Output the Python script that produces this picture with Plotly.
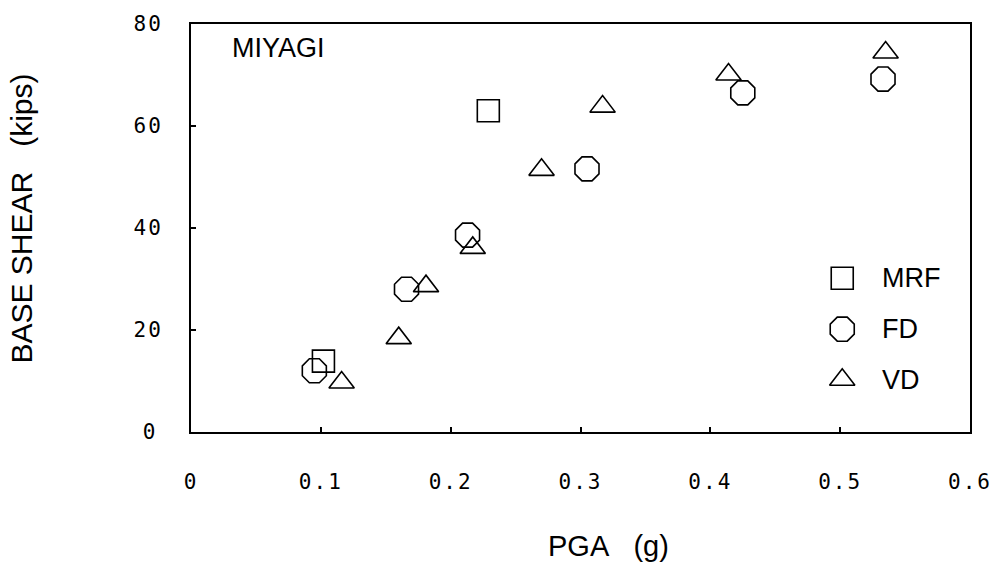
import plotly.graph_objects as go

# Peak ground acceleration (g) vs. base shear (kips), Miyagi record
mrf_pga = [0.102, 0.229]
mrf_shear = [13.9, 63.0]

fd_pga = [0.095, 0.166, 0.213, 0.305, 0.425, 0.533]
fd_shear = [12.0, 28.0, 38.6, 51.6, 66.5, 69.2]

vd_pga = [0.116, 0.160, 0.181, 0.217, 0.270, 0.317, 0.414, 0.535]
vd_shear = [9.7, 18.4, 28.6, 36.1, 51.4, 63.8, 70.1, 74.4]

x_ticks = [0, 0.1, 0.2, 0.3, 0.4, 0.5, 0.6]
x_ticktext = ["0", "0.1", "0.2", "0.3", "0.4", "0.5", "0.6"]
y_ticks = [0, 20, 40, 60, 80]
y_ticktext = ["0", "20", "40", "60", "80"]

legend_names = ["MRF", "FD", "VD"]
legend_symbols = ["square-open", "octagon-open", "triangle-up-open"]
legend_sizes = [22, 26, 22]

SANS = "Liberation Sans, Arial, sans-serif"
MONO = "DejaVu Sans Mono, monospace"


def spaced(s):
    return '<span style="letter-spacing:2px">' + s + "</span>"


def centered_single(s):
    # pad a one-digit label so it sits centred under two-digit labels
    if len(s) == 1:
        return spaced(s) + '<span style="font-size:9px">\u00a0</span>'
    return spaced(s)


fig = go.Figure()

marker_line = dict(color="black", width=1.6)
fig.add_trace(go.Scatter(x=mrf_pga, y=mrf_shear, mode="markers", name="MRF",
                         marker=dict(symbol="square-open", size=22, color="black", line=marker_line)))
fig.add_trace(go.Scatter(x=fd_pga, y=fd_shear, mode="markers", name="FD",
                         marker=dict(symbol="octagon-open", size=26, color="black", line=marker_line)))
fig.add_trace(go.Scatter(x=vd_pga, y=vd_shear, mode="markers", name="VD",
                         marker=dict(symbol="triangle-up-open", size=22, color="black", line=marker_line)))

# Key drawn on an overlaid unit axis
key_x = 0.836
key_y = [0.377, 0.252, 0.128]
for name, sym, sz, ky in zip(legend_names, legend_symbols, legend_sizes, key_y):
    fig.add_trace(go.Scatter(x=[key_x], y=[ky], xaxis="x2", yaxis="y2", mode="markers",
                             showlegend=False, hoverinfo="skip",
                             marker=dict(symbol=sym, size=sz, color="black", line=marker_line)))
    fig.add_annotation(x=0.884, y=ky, xref="x2", yref="y2", text=name, showarrow=False,
                       xanchor="left", yanchor="middle", font=dict(family=SANS, size=27, color="black"))

fig.add_annotation(x=0.05, y=0.942, xref="paper", yref="paper", text="MIYAGI", showarrow=False,
                   xanchor="left", yanchor="middle", font=dict(family=SANS, size=27, color="black"))
fig.add_annotation(x=0.536, y=-0.28, xref="paper", yref="paper", text="PGA\u00a0\u00a0\u00a0(g)",
                   showarrow=False, xanchor="center", yanchor="middle",
                   font=dict(family=SANS, size=29, color="black"))
fig.add_annotation(x=-0.217, y=0.523, xref="paper", yref="paper",
                   text="BASE SHEAR\u00a0\u00a0\u00a0(kips)",
                   showarrow=False, textangle=-90, xanchor="center", yanchor="middle",
                   font=dict(family=SANS, size=30, color="black"))

axis_common = dict(showgrid=False, zeroline=False, showline=True, linecolor="black", linewidth=2,
                   mirror=True, ticks="inside", ticklen=5, tickwidth=1.5, tickcolor="black",
                   tickfont=dict(family=MONO, size=21, color="black"))

fig.update_layout(
    width=1004, height=571,
    margin=dict(l=191, r=31, t=18, b=139),
    paper_bgcolor="white", plot_bgcolor="white",
    showlegend=False,
    xaxis=dict(range=[0, 0.6], tickmode="array", tickvals=x_ticks,
               ticktext=[spaced(t) for t in x_ticktext], ticklabelstandoff=30, **axis_common),
    yaxis=dict(range=[0, 80], tickmode="array", tickvals=y_ticks,
               ticktext=[centered_single(t) for t in y_ticktext], ticklabelstandoff=22, **axis_common),
    xaxis2=dict(range=[0, 1], overlaying="x", visible=False),
    yaxis2=dict(range=[0, 1], overlaying="y", visible=False),
)

fig.write_html("out.html")
